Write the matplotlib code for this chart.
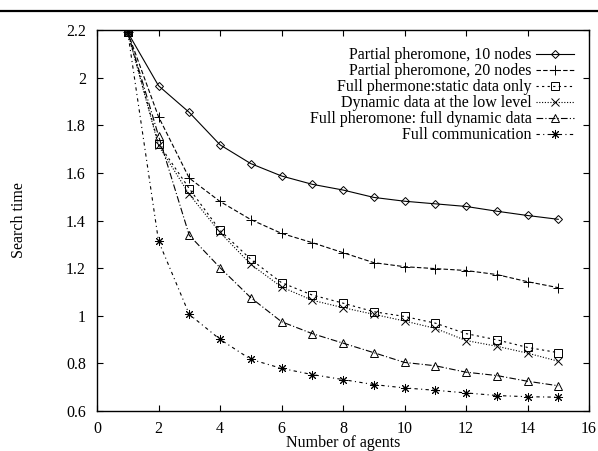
import matplotlib
matplotlib.use('Agg')
import matplotlib.pyplot as plt
from matplotlib.lines import Line2D

plt.rcParams['font.family'] = 'Liberation Serif'
plt.rcParams['font.size'] = 11.5

# Number of agents
agents = [1, 2, 3, 4, 5, 6, 7, 8, 9, 10, 11, 12, 13, 14, 15]

# Search time for each configuration
partial_10 = [2.19, 1.966, 1.854, 1.718, 1.639, 1.587, 1.552, 1.528, 1.497, 1.481, 1.470, 1.459, 1.439, 1.421, 1.405]
partial_20 = [2.19, 1.836, 1.578, 1.480, 1.404, 1.346, 1.307, 1.265, 1.223, 1.206, 1.198, 1.190, 1.173, 1.143, 1.118]
full_static = [2.19, 1.723, 1.534, 1.359, 1.237, 1.139, 1.087, 1.053, 1.017, 0.997, 0.969, 0.925, 0.899, 0.867, 0.845]
dynamic_low = [2.19, 1.715, 1.510, 1.350, 1.216, 1.121, 1.065, 1.034, 1.006, 0.978, 0.947, 0.896, 0.872, 0.843, 0.809]
full_dynamic = [2.19, 1.756, 1.338, 1.202, 1.076, 0.975, 0.925, 0.885, 0.845, 0.804, 0.790, 0.763, 0.749, 0.725, 0.706]
full_comm = [2.19, 1.314, 1.006, 0.901, 0.817, 0.779, 0.753, 0.732, 0.711, 0.697, 0.687, 0.676, 0.665, 0.660, 0.658]

labels = ['Partial pheromone, 10 nodes', 'Partial pheromone, 20 nodes',
          'Full phermone:static data only', 'Dynamic data at the low level',
          'Full pheromone: full dynamic data', 'Full communication']
series = [partial_10, partial_20, full_static, dynamic_low, full_dynamic, full_comm]

# gnuplot-like line/point types
styles = [
    dict(linestyle='-', marker='D', markersize=4.5),
    dict(linestyle=(0, (4, 2)), marker='+', markersize=7),
    dict(linestyle=(0, (2, 3)), marker='s', markersize=6),
    dict(linestyle=(0, (1, 1.5)), marker='x', markersize=6),
    dict(linestyle=(0, (6, 2, 1, 2)), marker='^', markersize=6),
    dict(linestyle=(0, (3, 3, 1, 3)), marker=(8, 2, 0), markersize=6.5),
]

fig = plt.figure(figsize=(5.98, 4.51), dpi=100)
ax = fig.add_axes([97 / 598, 40 / 451, 492 / 598, 381 / 451])

for y, lab, st in zip(series, labels, styles):
    ax.plot(agents, y, color='black', linewidth=0.8, markerfacecolor='none',
            markeredgecolor='black', markeredgewidth=0.7, label=lab, **st)

ax.set_xlim(0, 16)
ax.set_ylim(0.6, 2.2)
ax.set_xticks(range(0, 17, 2))
ax.set_yticks([0.6, 0.8, 1.0, 1.2, 1.4, 1.6, 1.8, 2.0, 2.2])
ax.set_yticklabels(['0.6', '0.8', '1', '1.2', '1.4', '1.6', '1.8', '2', '2.2'])
ax.tick_params(direction='in', length=4, width=0.8, top=True, right=True, pad=8, labelsize=11.5)
ax.tick_params(axis='x', pad=7)
for sp in ax.spines.values():
    sp.set_linewidth(1.0)

ax.set_xlabel('Number of agents', fontsize=11.5, labelpad=-1)
ax.set_ylabel('Search time', fontsize=11.5, labelpad=28)

ax.legend(loc='upper right', bbox_to_anchor=(0.9695, 0.955), frameon=False,
          markerfirst=False, numpoints=1, handlelength=2.4, handletextpad=0.25,
          labelspacing=0.0, borderpad=0, borderaxespad=0, fontsize=11.5)

# horizontal rule across the top of the page
fig.add_artist(Line2D([0, 1], [1 - 11 / 451, 1 - 11 / 451], color='black', linewidth=1.6,
                      transform=fig.transFigure))

fig.savefig('out.png', dpi=100)
